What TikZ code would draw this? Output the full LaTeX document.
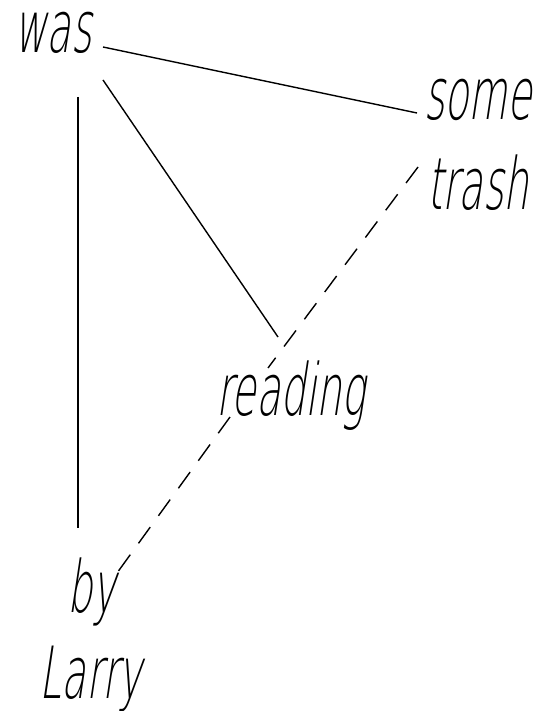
\documentclass[tikz,border=0pt]{standalone}
\usepackage{fontspec}
\newfontfamily\labfont{DejaVu Sans ExtraLight}[FakeStretch=0.55, FakeSlant=0.15]
\begin{document}
\begin{tikzpicture}[x=1pt,y=-1pt,
  lab/.style={inner sep=0pt, anchor=base, font=\labfont\fontsize{72}{72}\selectfont},
  solidlink/.style={line width=1.4pt},
  dashlink/.style={line width=1.4pt, dash pattern=on 20pt off 14pt}]
\useasboundingbox (0,0) rectangle (537,711);
\node[lab] (was) at (53,53) {was};
\node[lab] (some) at (478,120) {some};
\node[lab] (trash) at (478,210) {trash};
\node[lab] (reading) at (291,415) {reading};
\node[lab] (by) at (92,612) {by};
\node[lab] (larry) at (91,698) {Larry};
\draw[solidlink] ([shift={(50,-6)}]was.base) -- ([shift={(-61,-7)}]some.base);
\draw[solidlink] ([shift={(50,27)}]was.base) -- ([shift={(-13,-78)}]reading.base);
\draw[solidlink] ([shift={(25,44)}]was.base) -- ([shift={(-14,-84)}]by.base);
\draw[dashlink] ([shift={(-60,-43)}]trash.base) -- ([shift={(-23,-47)}]reading.base);
\draw[dashlink] ([shift={(-61,2)}]reading.base) -- ([shift={(25,-39)}]by.base);
\end{tikzpicture}
\end{document}
